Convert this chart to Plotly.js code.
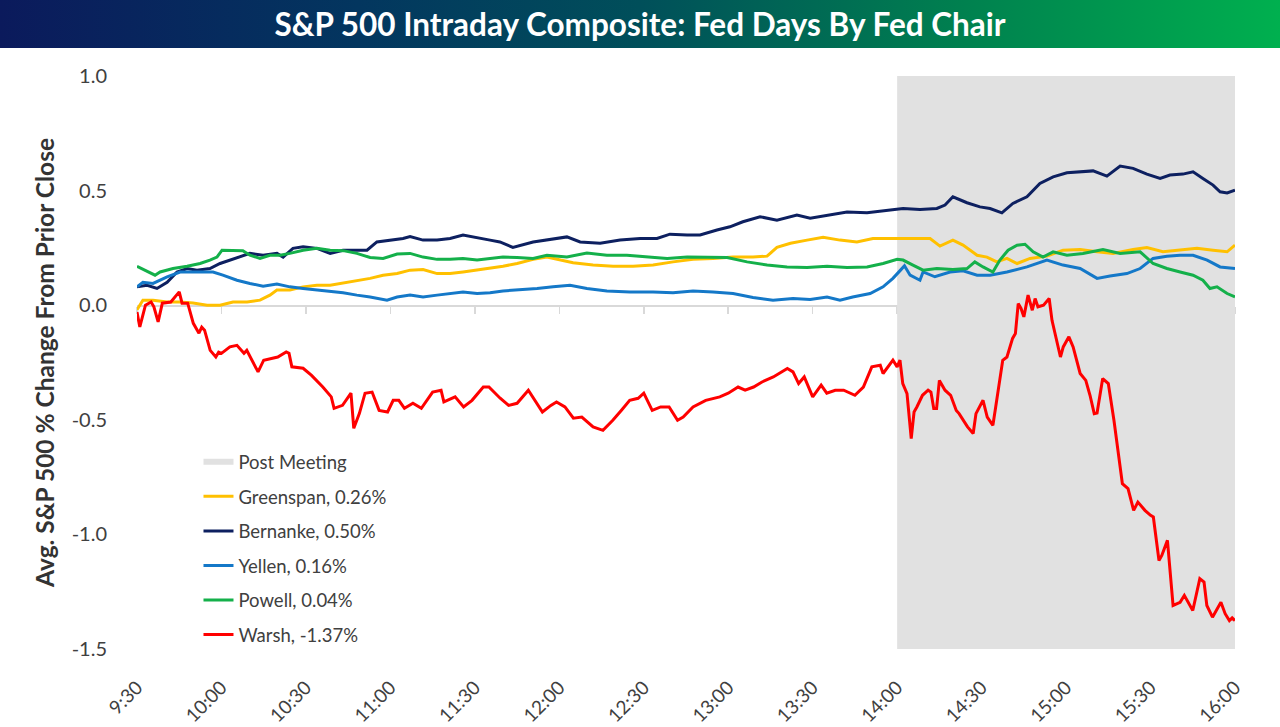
<!DOCTYPE html>
<html><head><meta charset="utf-8">
<script src="https://cdn.plot.ly/plotly-3.0.1.min.js"></script>
<style>
html,body{margin:0;padding:0;background:#fff;}
#band{position:absolute;left:0;top:0;width:1280px;height:48px;background:linear-gradient(90deg,#0b1a5c 0%,#03365f 28%,#004f5a 50%,#00804f 75%,#00b04f 100%);}
#chart{position:absolute;left:0;top:0;width:1280px;height:727px;}
</style></head><body>
<div id="band"></div><div id="chart"></div>
<script>
// Time axis: minutes after 9:30 open
const tickLabels = ['9:30','10:00','10:30','11:00','11:30','12:00','12:30','13:00','13:30','14:00','14:30','15:00','15:30','16:00'];
const yTickVals = [-1.5,-1.0,-0.5,0.0,0.5,1.0];
const yTickLabels = ['-1.5','-1.0','-0.5','0.0','0.5','1.0'];
const postMeetingStart = '14:00';
const sessionEnd = '16:00';

const greenspanT = [0,2.1,5.7,10.7,15.3,19.9,24.9,29.5,34.1,39.1,43.7,47.2,49.7,54.3,59,63.9,68.6,73.2,78.1,82.8,87.4,92.4,97,101.6,106.6,111.2,115.8,120.8,125.4,130,135,140.7,145.6,150.3,154.9,162,169.1,176.2,183.3,190.4,197.5,204.6,211.7,218.8,223.8,227.3,232.1,238,243.7,249.7,255.7,261.4,267.5,273.5,281.7,285.2,289.8,293.4,298.4,301.9,305.4,309,312.6,317.2,323.2,328.9,335,341,346.7,353.8,358.7,364.4,370.5,376.5,382.2,387.2,390];
const greenspanV = [-0.02,0.022,0.022,0.014,0.014,0.01,0.0,0.0,0.014,0.014,0.022,0.044,0.066,0.066,0.08,0.087,0.087,0.097,0.109,0.117,0.131,0.138,0.153,0.156,0.138,0.138,0.145,0.153,0.16,0.17,0.182,0.20,0.21,0.197,0.185,0.175,0.17,0.17,0.175,0.189,0.20,0.204,0.21,0.21,0.214,0.252,0.27,0.284,0.296,0.284,0.276,0.291,0.291,0.291,0.291,0.258,0.284,0.262,0.218,0.21,0.189,0.204,0.182,0.204,0.214,0.24,0.243,0.233,0.226,0.243,0.252,0.233,0.24,0.248,0.24,0.233,0.262];

const bernankeT = [0,3.6,7.1,10.7,14.2,17.8,21.3,25.9,29.5,33,36.6,40.1,44.8,49.7,51.9,55.4,59,63.9,68.6,73.2,78.1,81.7,85.2,89.9,94.5,97,101.6,106.6,111.2,115.8,120.8,125.4,128.9,133.5,140.7,145.6,152.7,157.4,164.5,171.6,178.7,184.7,189.3,195.4,200,206,210.6,215.2,221.3,227.3,234.4,239.1,245.1,252.2,259.3,266.4,272.1,278.1,284.1,287,289.8,294.8,299.4,303,307.2,311.1,316.1,320.7,325.4,330.3,335,339.6,344.5,349.2,353.8,358.7,363.4,366.9,371.5,375.1,378.6,382.2,384.7,387.2,390];
const bernankeV = [0.08,0.087,0.073,0.10,0.145,0.16,0.153,0.16,0.182,0.197,0.21,0.226,0.218,0.226,0.21,0.248,0.255,0.248,0.226,0.24,0.24,0.24,0.276,0.284,0.291,0.30,0.284,0.284,0.291,0.306,0.296,0.284,0.276,0.252,0.276,0.284,0.298,0.276,0.27,0.284,0.291,0.291,0.31,0.306,0.306,0.328,0.342,0.364,0.386,0.371,0.393,0.379,0.393,0.407,0.403,0.415,0.422,0.418,0.422,0.437,0.473,0.447,0.429,0.422,0.403,0.444,0.473,0.531,0.56,0.578,0.582,0.586,0.563,0.607,0.597,0.572,0.553,0.568,0.572,0.582,0.553,0.524,0.495,0.49,0.502];

const yellenT = [0,2.1,5.7,10.7,15.3,21.3,27,30.5,35.5,40.1,44.8,49.7,54.3,59,63.9,68.6,73.2,78.1,82.8,88.8,92.4,97,101.6,106.6,111.2,115.8,120.8,125.4,130,135,142.1,147.8,153.8,159.8,166.9,175.1,183.3,190.4,197.5,204.6,211.7,218.8,225.9,233,239.1,245.1,249.7,254.2,260.4,265,268.5,271.2,272.6,274.6,278.1,279.2,283.4,288.8,293.4,298.4,303,309,316.1,323.2,328.9,335,341,345.6,351.6,356.3,360.9,365.8,370.5,375.1,380.1,384.7,390];
const yellenV = [0.08,0.10,0.095,0.124,0.145,0.145,0.145,0.131,0.109,0.095,0.083,0.092,0.08,0.073,0.066,0.062,0.054,0.044,0.036,0.022,0.036,0.044,0.036,0.044,0.051,0.058,0.051,0.054,0.062,0.066,0.073,0.08,0.087,0.073,0.062,0.058,0.058,0.054,0.062,0.058,0.051,0.034,0.022,0.029,0.025,0.036,0.022,0.036,0.051,0.08,0.117,0.153,0.172,0.131,0.109,0.145,0.124,0.145,0.15,0.131,0.131,0.145,0.167,0.197,0.175,0.16,0.117,0.127,0.138,0.16,0.204,0.214,0.218,0.218,0.197,0.167,0.16];

const powellT = [0,2.8,6.4,8.2,12.8,17.8,22.4,25.9,28.4,30.2,34.1,37.6,40.1,43.7,47.2,50.8,54.3,59,63.9,68.6,73.2,78.1,82.8,87.4,92.4,97,101.6,106.6,111.2,115.8,120.8,125.4,130,135,140.7,145.6,152.7,159.8,166.9,174,181.1,188.3,195.4,202.5,209.6,216.7,223.8,230.9,238,245.1,252.2,259.3,265,270,272.1,275.6,279.2,284.1,289.8,294.8,297.6,300.5,304,306.5,309.4,312.6,315.4,318.3,321.8,325.4,330.3,336,343.1,349.2,356.3,360.9,365.8,370.5,375.1,378.6,381.1,383.6,387.2,390];
const powellV = [0.17,0.153,0.131,0.145,0.16,0.17,0.182,0.197,0.21,0.24,0.24,0.238,0.218,0.204,0.218,0.218,0.226,0.24,0.248,0.24,0.238,0.226,0.208,0.204,0.223,0.226,0.21,0.20,0.20,0.204,0.197,0.204,0.21,0.208,0.204,0.218,0.21,0.228,0.218,0.218,0.21,0.204,0.21,0.208,0.208,0.189,0.175,0.167,0.164,0.17,0.164,0.167,0.182,0.20,0.197,0.175,0.153,0.16,0.156,0.16,0.189,0.167,0.145,0.197,0.24,0.262,0.266,0.233,0.21,0.233,0.218,0.226,0.243,0.226,0.233,0.182,0.16,0.145,0.131,0.109,0.073,0.08,0.051,0.036];

const warshT = [0,1,3,5,6,7.5,9,12,15,16,
  18,20,22,23,24,26,28,29,30,33,
  35.5,38,39,43,45,50,53,54,55,59,
  62,66,69,70,73,76,77,79,81,83.5,
  86,89,91,93,95,98,101,105,108,109,
  113,116,119,123,125,129,132,135,139,144,
  147,149,152,155,158,162,165.5,169,172,175,
  178,180,183,186,189,192,194,197.5,202,205,
  207,210,213.5,216,219,222,226,231,233,235,
  237,240,243,245,248,251,255,258,261,264,
  265,268.5,270,271,272,273.5,275,276,277,279,
  281,282,283,284,285,287,289,291,292,295,
  297,298,300.5,302,304,305,307.5,309,311,312,
  313,314,315,316.5,318,319,320,322,324,325,
  328,329,331,332.5,335,337,338.5,340,341,343,
  345,347,348,350,352,354,355.5,358,360,361,
  363,364,366,368,370.5,372,375,376,377.5,379,
  380,382,385,386.5,388,389,390];
const warshV = [-0.03,-0.095,0.0,0.014,-0.007,-0.073,0.009,0.014,0.058,0.009,
  0.009,-0.079,-0.122,-0.096,-0.109,-0.197,-0.226,-0.205,-0.21,-0.182,
  -0.175,-0.21,-0.197,-0.291,-0.24,-0.226,-0.204,-0.21,-0.269,-0.275,
  -0.306,-0.357,-0.40,-0.45,-0.437,-0.384,-0.537,-0.472,-0.384,-0.379,
  -0.459,-0.466,-0.415,-0.415,-0.45,-0.428,-0.45,-0.379,-0.371,-0.422,
  -0.40,-0.444,-0.415,-0.357,-0.357,-0.406,-0.437,-0.428,-0.371,-0.466,
  -0.437,-0.422,-0.444,-0.493,-0.488,-0.531,-0.546,-0.502,-0.459,-0.415,
  -0.406,-0.384,-0.459,-0.444,-0.444,-0.502,-0.488,-0.444,-0.415,-0.406,
  -0.40,-0.384,-0.357,-0.371,-0.357,-0.335,-0.313,-0.276,-0.291,-0.342,
  -0.313,-0.40,-0.349,-0.384,-0.371,-0.371,-0.393,-0.357,-0.269,-0.262,
  -0.298,-0.24,-0.269,-0.24,-0.342,-0.386,-0.582,-0.466,-0.444,-0.393,
  -0.371,-0.379,-0.451,-0.451,-0.328,-0.371,-0.393,-0.459,-0.473,-0.531,
  -0.56,-0.473,-0.415,-0.488,-0.524,-0.444,-0.24,-0.226,-0.145,-0.124,
  0.007,-0.014,-0.051,0.044,-0.022,0.029,-0.007,0.0,0.029,-0.066,
  -0.226,-0.182,-0.138,-0.182,-0.298,-0.328,-0.393,-0.473,-0.47,-0.32,
  -0.342,-0.502,-0.59,-0.779,-0.80,-0.895,-0.859,-0.895,-0.917,-0.924,
  -1.114,-1.092,-1.026,-1.31,-1.296,-1.266,-1.332,-1.274,-1.193,-1.208,
  -1.31,-1.361,-1.296,-1.346,-1.376,-1.364,-1.376];

const seriesNames = ['Greenspan, 0.26%','Bernanke, 0.50%','Yellen, 0.16%','Powell, 0.04%','Warsh, -1.37%'];
const yRange = [-1.5, 1.0];

function toMin(s){const p=s.split(':');return (+p[0])*60 + (+p[1]) - 570;}
const tickVals = tickLabels.map(toMin);
const FONT = 'Lato, "Open Sans", sans-serif';
const TXT = '#404040';

const x0 = toMin(postMeetingStart), x1 = toMin(sessionEnd);
const shade = {
  x:[x0,x1,x1,x0,x0], y:[yRange[0],yRange[0],yRange[1],yRange[1],yRange[0]],
  type:'scatter', mode:'none', fill:'toself', fillcolor:'#e1e1e1',
  name:'Post Meeting', legendgroup:'g0', hoverinfo:'skip'
};
const colors = ['#FFC000','#0D2060','#1478C8','#14B04A','#FF0000'];
const sets = [[greenspanT,greenspanV],[bernankeT,bernankeV],[yellenT,yellenV],[powellT,powellV],[warshT,warshV]];
const lines = sets.map((s,i)=>({
  x:s[0], y:s[1], type:'scatter', mode:'lines', name:seriesNames[i],
  legendgroup:'g'+(i+1), line:{color:colors[i], width:3}, hoverinfo:'skip'
}));
const dummy = {x:[0,390], y:[null,null], xaxis:'x2', yaxis:'y', mode:'lines', showlegend:false, hoverinfo:'skip'};

const layout = {
  width:1280, height:727,
  margin:{l:137, r:45, t:76, b:78, pad:0},
  paper_bgcolor:'rgba(0,0,0,0)', plot_bgcolor:'rgba(0,0,0,0)',
  font:{family:FONT, color:TXT},
  title:{text:'S&P 500 Intraday Composite: Fed Days By Fed Chair', x:0.5, xanchor:'center', y:1-25/727, yanchor:'middle', yref:'container',
    font:{family:FONT, size:31.5, color:'#ffffff', weight:700}},
  xaxis:{range:[0,390], anchor:'free', position:(0-yRange[0])/(yRange[1]-yRange[0]),
    tickvals:tickVals, showticklabels:false, ticks:'outside', ticklen:7, tickcolor:'#d9d9d9', tickwidth:1.5,
    showline:true, linecolor:'#d9d9d9', linewidth:1.5, showgrid:false, zeroline:false, layer:'below traces'},
  xaxis2:{range:[0,390], overlaying:'x', anchor:'y', side:'bottom', tickvals:tickVals, ticktext:tickLabels,
    tickangle:-45, ticks:'outside', ticklen:19, tickcolor:'rgba(0,0,0,0)', showline:false, showgrid:false, zeroline:false,
    tickfont:{family:FONT, size:19, color:TXT}},
  yaxis:{range:yRange, tickvals:yTickVals, ticktext:yTickLabels, showgrid:false, zeroline:false, showline:false,
    ticks:'outside', ticklen:25, tickcolor:'rgba(0,0,0,0)',
    tickfont:{family:FONT, size:20, color:TXT},
    title:{text:'Avg. S&P 500 % Change From Prior Close', standoff:10, font:{family:FONT, size:24.5, color:'#333333', weight:700}}},
  legend:{x:0.056, xanchor:'left', y:0.359, yanchor:'top', bgcolor:'rgba(0,0,0,0)', traceorder:'grouped', tracegroupgap:7.5,
    font:{family:FONT, size:18.5, color:TXT}},
  showlegend:true
};
Plotly.newPlot('chart', [shade].concat(lines).concat([dummy]), layout, {displayModeBar:false, staticPlot:true});
</script></body></html>
